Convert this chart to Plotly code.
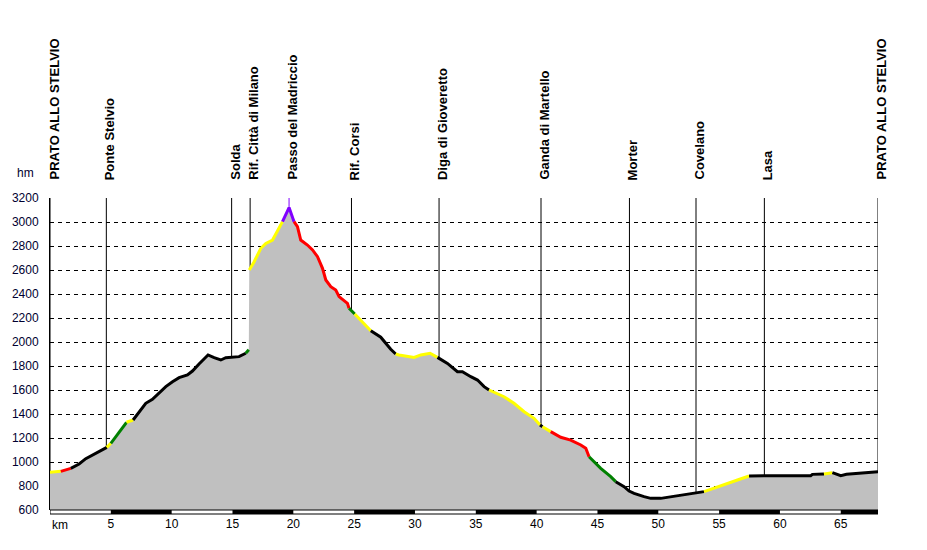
import numpy as np
import plotly.graph_objects as go

# ---------------- data ----------------
dist_km = [0.0, 0.89, 1.71, 2.39, 2.94, 3.76, 4.31, 4.67, 5.0, 6.29, 6.83, 7.87, 8.42, 9.52,
           10.07, 10.61, 11.30, 11.71, 12.25, 12.99, 13.49, 14.04, 14.45, 15.54, 16.09, 16.34,
           16.38, 16.78, 17.33, 17.74, 18.29, 18.83, 19.11, 19.65, 20.06, 20.34, 20.61, 21.16,
           21.58, 21.99, 22.40, 22.67, 23.08, 23.49, 23.76, 24.17, 24.45, 24.58, 25.05, 26.37,
           27.19, 27.60, 28.01, 28.42, 28.69, 29.93, 30.48, 31.24, 31.85, 32.67, 33.49, 33.90,
           34.59, 35.14, 35.68, 36.09, 37.32, 38.14, 38.97, 39.79, 40.28, 40.48, 41.16, 41.98,
           42.80, 43.63, 44.04, 44.31, 45.27, 46.09, 46.50, 47.19, 47.60, 48.01, 48.83, 49.38,
           50.20, 51.02, 52.40, 53.76, 55.41, 56.51, 57.46, 58.70, 62.53, 62.67, 63.62, 64.31,
           65.0, 65.47, 66.64, 67.46, 68.06]
elev_m = [914, 922, 947, 983, 1028, 1072, 1105, 1122, 1156, 1331, 1350, 1489, 1522, 1628,
          1669, 1703, 1725, 1758, 1817, 1892, 1869, 1850, 1869, 1878, 1906, 1935,
          2600, 2669, 2781, 2822, 2850, 2947, 3003, 3120, 3003, 2961, 2850, 2808,
          2767, 2711, 2614, 2517, 2461, 2433, 2378, 2344, 2322, 2281, 2233, 2094,
          2040, 1989, 1939, 1900, 1892, 1872, 1892, 1906, 1872, 1822, 1753, 1753,
          1711, 1683, 1628, 1600, 1544, 1489, 1419, 1364, 1308, 1294, 1253, 1206,
          1183, 1142, 1114, 1044, 947, 878, 836, 794, 758, 739, 711, 697,
          697, 711, 731, 753, 814, 850, 883, 886, 886, 897, 900, 911,
          886, 897, 906, 914, 919]
# gradient class of the stretch that starts at each point (Y yellow, R red, G green, P purple, K black, N none)
grade_class = ["Y", "R", "K", "K", "K", "K", "K", "Y", "G", "Y", "K", "K", "K", "K",
               "K", "K", "K", "K", "K", "K", "K", "K", "K", "K", "G", "N",
               "Y", "Y", "Y", "Y", "Y", "Y", "P", "P", "R", "R", "R", "R",
               "R", "R", "R", "R", "R", "R", "R", "R", "R", "G", "Y", "K",
               "K", "K", "K", "Y", "Y", "Y", "Y", "Y", "K", "K", "K", "K",
               "K", "K", "K", "Y", "Y", "Y", "Y", "Y", "K", "Y", "R", "R",
               "R", "R", "R", "G", "G", "G", "K", "K", "K", "K", "K", "K",
               "K", "K", "K", "Y", "Y", "Y", "K", "K", "K", "K", "Y", "K",
               "K", "K", "K", "K", "K"]

waypoint_names = ["PRATO ALLO STELVIO", "Ponte Stelvio", "Solda", "Rif. Città di Milano",
                  "Passo del Madriccio", "Rif. Corsi", "Diga di Gioveretto", "Ganda di Martello",
                  "Morter", "Covelano", "Lasa", "PRATO ALLO STELVIO"]
waypoint_km = [0.0, 4.63, 14.93, 16.45, 19.65, 24.78, 31.98, 40.36, 47.63, 53.1, 58.72, 68.06]

y_ticks = list(range(600, 3201, 200))
x_ticks = list(range(5, 66, 5))

# ---------------- styling ----------------
class_color = {"Y": "#FFFF00", "R": "#FF0000", "G": "#008000", "P": "#8000FF", "K": "#000000"}
FONT = "Arial, Liberation Sans, sans-serif"
YMIN, YMAX = 600, 3200
XMAX = dist_km[-1]

fig = go.Figure()

# grey filled profile
fig.add_trace(go.Scatter(x=dist_km, y=elev_m, mode="lines", fill="tozeroy",
                         fillcolor="#C0C0C0", line=dict(width=0, color="#C0C0C0"),
                         hoverinfo="skip", showlegend=False))

# waypoint vertical lines
for name, k in zip(waypoint_names, waypoint_km):
    e = float(np.interp(k, dist_km, elev_m))
    col = "#8000FF" if name == "Passo del Madriccio" else "black"
    fig.add_trace(go.Scatter(x=[k, k], y=[YMAX, e], mode="lines",
                             line=dict(color=col, width=1), hoverinfo="skip", showlegend=False))

# coloured profile line, one trace per run of the same class
n = len(dist_km)
i = 0
while i < n - 1:
    c = grade_class[i]
    j = i
    while j + 1 < n - 1 and grade_class[j + 1] == c:
        j += 1
    if c != "N":
        fig.add_trace(go.Scatter(x=dist_km[i:j + 2], y=elev_m[i:j + 2], mode="lines",
                                 line=dict(color=class_color[c], width=3),
                                 hoverinfo="skip", showlegend=False))
    i = j + 1

# km scale bar below the plot
bar_h = 4 / 312
for s in range(0, 70, 5):
    x0, x1 = s, min(s + 5, XMAX)
    if x0 >= XMAX:
        break
    if (s // 5) % 2 == 1:
        fig.add_shape(type="rect", xref="x", yref="paper", x0=x0, x1=x1, y0=-bar_h, y1=0,
                      fillcolor="black", line=dict(width=0), layer="above")
fig.add_shape(type="rect", xref="x", yref="paper", x0=0, x1=XMAX, y0=-bar_h, y1=0,
              fillcolor="rgba(0,0,0,0)", line=dict(width=1, color="black"), layer="above")

# waypoint labels
for idx, (name, k) in enumerate(zip(waypoint_names, waypoint_km)):
    fig.add_annotation(x=k, xref="x", y=1, yref="paper", text="<b>%s</b>" % name,
                       textangle=-90, showarrow=False, xanchor="center", yanchor="bottom",
                       xshift=4 if idx == 0 else 3, yshift=16,
                       font=dict(family=FONT, size=13, color="black"))

# axis unit labels
fig.add_annotation(x=-14 / 828, xref="paper", y=1.08, yref="paper", text="hm",
                   showarrow=False, xanchor="right", yanchor="middle",
                   font=dict(family=FONT, size=12, color="#000030"))
fig.add_annotation(x=0, xref="x", y=-0.018, yref="paper", text="km", showarrow=False,
                   xanchor="left", yanchor="top",
                   font=dict(family=FONT, size=12, color="black"))

fig.update_layout(
    width=927, height=550,
    margin=dict(l=50, r=49, t=198, b=40),
    paper_bgcolor="white", plot_bgcolor="white",
    showlegend=False,
    xaxis=dict(range=[0, XMAX], tickvals=x_ticks, ticks="", showgrid=False, zeroline=False,
               showline=False, ticklabelstandoff=5,
               tickfont=dict(family=FONT, size=12, color="black")),
    yaxis=dict(range=[YMIN, YMAX], tickvals=y_ticks, ticks="", showgrid=True,
               gridcolor="black", gridwidth=1, griddash="4px,4px", zeroline=False,
               showline=True, linecolor="black", linewidth=1, ticklabelstandoff=8,
               tickfont=dict(family=FONT, size=12, color="#000030")),
)

fig.write_html("out.html")
